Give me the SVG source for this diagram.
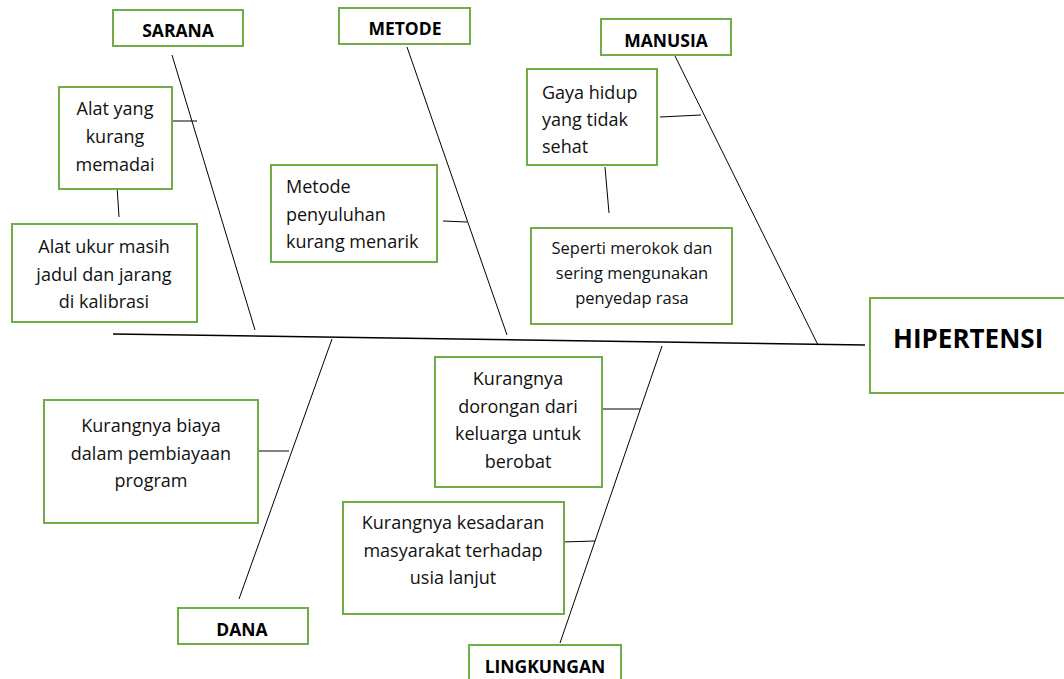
<svg xmlns="http://www.w3.org/2000/svg" width="1064" height="679" viewBox="0 0 1064 679">
<style>
.box{fill:#fff;stroke:#70AD47;stroke-width:2}
.t{font-family:"Open Sans","Liberation Sans",sans-serif;font-size:18px;fill:#111}
.s{font-family:"Open Sans","Liberation Sans",sans-serif;font-size:16.5px;fill:#111}
.h{font-family:"Open Sans","Liberation Sans",sans-serif;font-size:17.5px;font-weight:bold;fill:#000}
.big{font-family:"Open Sans","Liberation Sans",sans-serif;font-size:26px;font-weight:bold;fill:#000}
.c{text-anchor:middle}
.ln{stroke:#000;stroke-width:1;fill:none}
</style>
<rect width="1064" height="679" fill="#fff"/>
<g id="connectors">
<line class="ln" x1="113" y1="334" x2="865" y2="345" style="stroke-width:1.5"/>
<line class="ln" x1="172" y1="55" x2="255" y2="330"/>
<line class="ln" x1="407" y1="47" x2="507" y2="335"/>
<line class="ln" x1="675" y1="56" x2="818" y2="345"/>
<line class="ln" x1="332" y1="339" x2="239" y2="599"/>
<line class="ln" x1="662" y1="346" x2="560" y2="643"/>
<line class="ln" x1="172" y1="121" x2="197" y2="121"/>
<line class="ln" x1="117" y1="186" x2="119" y2="217"/>
<line class="ln" x1="443" y1="221" x2="467" y2="222"/>
<line class="ln" x1="660" y1="117" x2="701" y2="115"/>
<line class="ln" x1="605" y1="167" x2="609" y2="213"/>
<line class="ln" x1="259" y1="451" x2="289" y2="451"/>
<line class="ln" x1="602" y1="409" x2="640" y2="409"/>
<line class="ln" x1="562" y1="542" x2="595" y2="541"/>
</g>
<g id="sarana"><rect class="box" x="113" y="10" width="130" height="36"/><text class="h c" x="178" y="37">SARANA</text></g>
<g id="metode"><rect class="box" x="339" y="8" width="131" height="36"/><text class="h c" x="405" y="35">METODE</text></g>
<g id="manusia"><rect class="box" x="601" y="19" width="130" height="36"/><text class="h c" x="666" y="47">MANUSIA</text></g>
<g id="hipertensi"><rect class="box" x="870" y="298" width="200" height="95"/><text class="big" x="893" y="348">HIPERTENSI</text></g>
<g id="alat-yang"><rect class="box" x="59" y="87" width="113" height="102"/><text class="t c" x="115"><tspan x="115" y="115">Alat yang</tspan><tspan x="115" y="143">kurang</tspan><tspan x="115" y="171">memadai</tspan></text></g>
<g id="alat-ukur"><rect class="box" x="12" y="224" width="185" height="98"/><text class="t c"><tspan x="104" y="253">Alat ukur masih</tspan><tspan x="104" y="281">jadul dan jarang</tspan><tspan x="104" y="308">di kalibrasi</tspan></text></g>
<g id="metode-penyuluhan"><rect class="box" x="271" y="165" width="166" height="97"/><text class="t"><tspan x="286" y="193">Metode</tspan><tspan x="286" y="221">penyuluhan</tspan><tspan x="286" y="248">kurang menarik</tspan></text></g>
<g id="gaya-hidup"><rect class="box" x="527" y="69" width="130" height="96"/><text class="t"><tspan x="542" y="99">Gaya hidup</tspan><tspan x="542" y="126">yang tidak</tspan><tspan x="542" y="153">sehat</tspan></text></g>
<g id="seperti"><rect class="box" x="531" y="228" width="201" height="96"/><text class="s c"><tspan x="632" y="254">Seperti merokok dan</tspan><tspan x="632" y="279">sering mengunakan</tspan><tspan x="632" y="304">penyedap rasa</tspan></text></g>
<g id="kurang-biaya"><rect class="box" x="44" y="400" width="214" height="123"/><text class="t c"><tspan x="151" y="432">Kurangnya biaya</tspan><tspan x="151" y="460">dalam pembiayaan</tspan><tspan x="151" y="487">program</tspan></text></g>
<g id="dana"><rect class="box" x="178" y="608" width="130" height="36"/><text class="h c" x="242" y="636">DANA</text></g>
<g id="kurang-dorongan"><rect class="box" x="435" y="357" width="167" height="130"/><text class="t c"><tspan x="518" y="385">Kurangnya</tspan><tspan x="518" y="413">dorongan dari</tspan><tspan x="518" y="440">keluarga untuk</tspan><tspan x="518" y="468">berobat</tspan></text></g>
<g id="kurang-kesadaran"><rect class="box" x="343" y="502" width="221" height="112"/><text class="t c"><tspan x="453" y="529">Kurangnya kesadaran</tspan><tspan x="453" y="557">masyarakat terhadap</tspan><tspan x="453" y="584">usia lanjut</tspan></text></g>
<g id="lingkungan"><rect class="box" x="469" y="645" width="152" height="45"/><text class="h c" x="545" y="673">LINGKUNGAN</text></g>
</svg>
